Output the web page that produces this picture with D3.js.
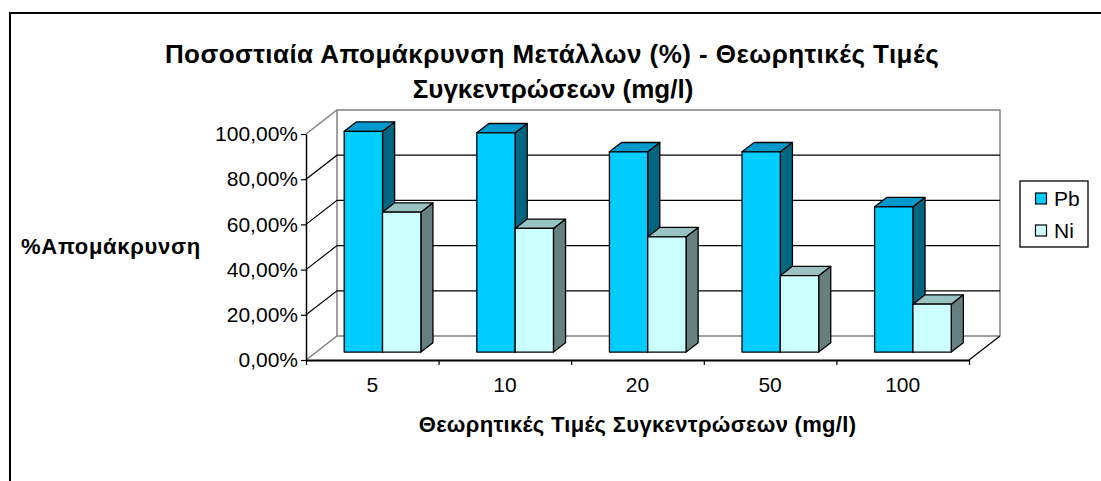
<!DOCTYPE html>
<html>
<head>
<meta charset="utf-8">
<script src="https://cdn.jsdelivr.net/npm/d3@7"></script>
<style>
  html, body { margin: 0; padding: 0; background: #fff; }
  svg { display: block; font-family: "Liberation Sans", Arial, sans-serif; }
</style>
</head>
<body>
<svg id="chart" width="1101" height="481"></svg>
<script>
// Removal percentage per theoretical concentration (mg/l)
const categories = ["5", "10", "20", "50", "100"];
const seriesNames = ["Pb", "Ni"];
const pbValues = [0.977, 0.970, 0.886, 0.886, 0.643];
const niValues = [0.619, 0.547, 0.510, 0.338, 0.212];
const yTicks = [0, 0.2, 0.4, 0.6, 0.8, 1.0];

const titleLines = ["Ποσοστιαία Απομάκρυνση Μετάλλων (%) - Θεωρητικές Τιμές", "Συγκεντρώσεων (mg/l)"];
const yTitle = "%Απομάκρυνση";
const xTitle = "Θεωρητικές Τιμές Συγκεντρώσεων (mg/l)";

const colors = {
  Pb: { front: "#00CCFF", top: "#0099CC", side: "#006680" },
  Ni: { front: "#CCFFFF", top: "#99C2C2", side: "#667F7F" }
};

const svg = d3.select("#chart");

// chart frame
svg.append("rect")
  .attr("x", 10).attr("y", 13)
  .attr("width", 1200).attr("height", 600)
  .attr("fill", "none").attr("stroke", "#000").attr("stroke-width", 2);

// plot geometry (front plane + oblique depth)
const x0 = 306, x1 = 969, yBottom = 360, yTop = 134;
const DX = 31, DY = -24;          // depth of floor / side wall
const f0 = 0.33, f1 = 0.72;       // bar depth, as fraction of DX/DY

const x = d3.scaleBand().domain(categories).range([x0, x1]).paddingInner(0).paddingOuter(0);
const xs = d3.scaleBand().domain(seriesNames).range([0, x.bandwidth()]).paddingInner(0).paddingOuter(0.73);
const y = d3.scaleLinear().domain([0, 1]).range([yBottom, yTop]);

const walls = svg.append("g");
const gray = "#808080";
const line = (g, pts, stroke, w) => g.append("path")
  .attr("d", d3.line()(pts)).attr("fill", "none")
  .attr("stroke", stroke).attr("stroke-width", w);

// back wall frame and floor
line(walls, [[x0, y(1)], [x0 + DX, y(1) + DY], [x1 + DX, y(1) + DY], [x1 + DX, y(0) + DY]], gray, 1.5);
line(walls, [[x0 + DX, y(1) + DY], [x0 + DX, y(0) + DY]], gray, 1.5);
line(walls, [[x0, y(0)], [x0 + DX, y(0) + DY], [x1 + DX, y(0) + DY]], gray, 1.5);
line(walls, [[x1, y(0)], [x1 + DX, y(0) + DY]], "#000", 1.2);

// gridlines on side and back walls
yTicks.filter(v => v > 0 && v < 1).forEach(v => {
  line(walls, [[x0, y(v)], [x0 + DX, y(v) + DY], [x1 + DX, y(v) + DY]], "#000", 1.2);
});

// 3D bars
const bars = svg.append("g").attr("stroke", "#000").attr("stroke-width", 1.3).attr("stroke-linejoin", "round");
const seriesData = { Pb: pbValues, Ni: niValues };
const ox = DX * f0, oy = DY * f0;
const dx = DX * (f1 - f0), dy = DY * (f1 - f0);

categories.forEach((c, i) => {
  seriesNames.forEach(s => {
    const v = seriesData[s][i];
    const L = x(c) + xs(s) + ox, R = L + xs.bandwidth();
    const B = y(0) + oy, T = y(v) + oy;
    const col = colors[s];
    const poly = pts => "M" + pts.map(p => p.join(",")).join("L") + "Z";
    bars.append("path").attr("fill", col.side)
      .attr("d", poly([[R, B], [R + dx, B + dy], [R + dx, T + dy], [R, T]]));
    bars.append("path").attr("fill", col.top)
      .attr("d", poly([[L, T], [L + dx, T + dy], [R + dx, T + dy], [R, T]]));
    bars.append("path").attr("fill", col.front)
      .attr("d", poly([[L, B], [L, T], [R, T], [R, B]]));
  });
});

// y axis
const locale = d3.formatLocale({ decimal: ",", thousands: ".", grouping: [3], currency: ["", "€"] });
const pct = locale.format(".2%");
const yAxis = svg.append("g").attr("transform", `translate(${x0},0)`)
  .call(d3.axisLeft(y).tickValues(yTicks).tickFormat(pct).tickSize(5).tickSizeOuter(0).tickPadding(3));
yAxis.select(".domain").attr("stroke", "#000").attr("stroke-width", 1.5);
yAxis.selectAll(".tick line").attr("stroke", "#000").attr("stroke-width", 1.2);
yAxis.selectAll("text").attr("font-size", 21).attr("fill", "#000")
  .attr("font-family", "'Liberation Sans', Arial, sans-serif");

// x axis: tick marks on category boundaries, labels on category centres
const xb = d3.scaleLinear().domain([0, categories.length]).range([x0, x1]);
const xTickAxis = svg.append("g").attr("transform", `translate(0,${yBottom})`)
  .call(d3.axisBottom(xb).tickValues(d3.range(categories.length + 1)).tickFormat("").tickSize(5).tickSizeOuter(0));
xTickAxis.select(".domain").attr("stroke", "#000").attr("stroke-width", 2);
xTickAxis.selectAll(".tick line").attr("stroke", "#000").attr("stroke-width", 1.2);

const xLabelAxis = svg.append("g").attr("transform", `translate(0,${yBottom})`)
  .call(d3.axisBottom(x).tickSize(0).tickPadding(17));
xLabelAxis.select(".domain").remove();
xLabelAxis.selectAll("text").attr("font-size", 21).attr("fill", "#000")
  .attr("font-family", "'Liberation Sans', Arial, sans-serif");

// titles
const title = svg.append("g").attr("font-weight", "bold").attr("font-size", 26).attr("text-anchor", "middle");
title.append("text").attr("x", 552).attr("y", 62.5).attr("letter-spacing", 0.45).text(titleLines[0]);
title.append("text").attr("x", 553).attr("y", 98).text(titleLines[1]);

svg.append("text").attr("x", 111).attr("y", 254)
  .attr("text-anchor", "middle").attr("font-weight", "bold").attr("font-size", 22)
  .attr("letter-spacing", 0.7)
  .text(yTitle);

svg.append("text").attr("x", (x0 + x1) / 2).attr("y", 432)
  .attr("text-anchor", "middle").attr("font-weight", "bold").attr("font-size", 22)
  .attr("letter-spacing", 0.3)
  .text(xTitle);

// legend
const legend = svg.append("g");
legend.append("rect").attr("x", 1020).attr("y", 181).attr("width", 68).attr("height", 66)
  .attr("fill", "#fff").attr("stroke", "#000").attr("stroke-width", 1.3);
seriesNames.forEach((s, i) => {
  const cy = 198.5 + i * 32;
  legend.append("rect").attr("x", 1035.5).attr("y", cy - 5.5).attr("width", 11).attr("height", 11)
    .attr("fill", colors[s].front).attr("stroke", "#000").attr("stroke-width", 1.2);
  legend.append("text").attr("x", 1054).attr("y", cy + 7.5).attr("font-size", 21).text(s);
});
</script>
</body>
</html>
